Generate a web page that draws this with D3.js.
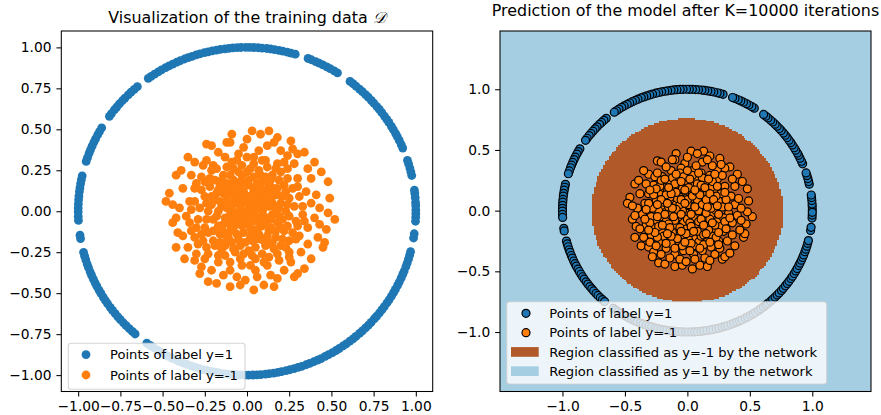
<!DOCTYPE html>
<html><head><meta charset="utf-8">
<script src="https://cdn.jsdelivr.net/npm/d3@7"></script>
<style>
body{margin:0;background:#fff}
svg text{font-family:"DejaVu Sans",sans-serif;fill:#000}
</style>
</head><body>
<svg id="fig" width="881" height="415"></svg>
<script>
// Training set: points with label y=1 lie on the unit circle (angles in degrees)
const ringAngles = [0.4,1.9,3.1,4.8,6.2,7.4,12.6,13.9,15.3,16.8,18.1,22.7,24.0,25.6,27.1,28.3,29.9,31.2,32.8,34.1,35.5,37.0,38.4,39.7,41.3,42.6,44.1,45.4,46.9,48.2,49.8,51.1,52.4,57.6,58.9,60.5,61.8,63.3,64.7,66.0,67.6,68.8,73.4,74.9,76.2,77.8,79.1,80.6,82.0,83.3,84.9,86.2,87.7,89.1,90.4,92.0,93.3,94.8,96.2,97.5,99.1,100.4,101.9,103.3,104.6,106.2,107.5,109.0,110.4,111.7,113.3,114.6,116.1,117.5,118.8,120.4,121.7,123.2,124.6,125.8,130.5,131.9,133.4,134.7,136.3,137.6,139.1,140.5,141.8,143.4,144.6,149.4,150.9,152.2,153.8,155.1,156.6,158.0,159.3,160.9,162.3,167.5,168.9,170.3,171.8,173.1,174.7,176.0,177.5,178.9,180.2,181.8,183.2,188.4,189.6,194.5,195.9,197.3,198.8,200.1,201.7,203.0,204.5,205.9,207.2,208.8,210.1,211.6,213.0,214.3,215.9,217.2,218.7,220.1,221.4,223.0,224.3,225.8,227.2,228.5,233.6,235.0,236.4,237.9,239.2,240.8,242.1,243.6,245.0,246.3,247.9,249.2,250.7,252.1,253.4,255.0,256.3,257.8,259.2,260.5,262.1,263.4,264.9,266.3,267.6,269.2,270.5,272.0,273.4,274.7,276.3,277.6,279.1,280.5,281.8,283.4,284.7,286.2,287.6,288.9,290.5,291.8,293.3,294.7,296.0,297.6,298.9,300.4,301.8,303.1,304.7,306.0,307.5,308.9,310.2,311.8,313.1,314.6,316.0,317.3,318.9,320.2,321.7,323.1,324.4,326.0,327.3,328.8,330.2,331.5,333.1,334.4,335.9,337.3,338.6,340.2,341.5,343.0,344.4,345.7,350.6,352.1,356.5,357.9,359.2];

// Points with label y=-1 fill the disc of radius 0.5
const innerPoints = [
[0.03,0.49],[0.13,0.49],[0.08,0.47],[-0.09,0.47],[-0.24,0.41],[-0.21,0.40],[-0.10,0.42],[-0.02,0.39],[0.12,0.40],[0.18,0.45],[0.26,0.43],[0.34,0.36],[0.30,0.35],[0.24,0.34],[-0.31,0.30],[-0.26,0.28],[-0.42,0.22],[0.44,0.24],[0.48,0.18],[0.49,0.08],[-0.46,0.11],[-0.48,0.06],[-0.44,-0.07],[-0.41,-0.13],[-0.42,-0.22],[-0.37,-0.29],[-0.31,-0.30],[-0.27,-0.34],[-0.23,-0.43],[-0.18,-0.44],[-0.10,-0.46],[-0.04,-0.45],[0.04,-0.48],[0.10,-0.45],[0.16,-0.46],[0.28,-0.40],[0.30,-0.38],[0.34,-0.35],[0.38,-0.29],[0.45,-0.22],[0.46,-0.19],[0.47,-0.11],[0.52,-0.05],[0.42,-0.16],[0.48,-0.01],
[0.30,0.20],[0.35,0.12],[0.38,0.05],[0.33,-0.02],[0.36,-0.10],[0.29,-0.17],[0.25,-0.25],[0.19,-0.30],[0.12,-0.33],[0.05,-0.36],[-0.03,-0.33],[-0.10,-0.36],[-0.17,-0.31],[-0.23,-0.26],[-0.29,-0.20],[-0.33,-0.12],[-0.36,-0.03],[-0.34,0.06],[-0.31,0.14],[-0.27,0.21],[-0.20,0.28],[-0.13,0.33],[-0.05,0.35],[0.04,0.33],[0.11,0.31],[0.18,0.29],[0.24,0.26],[0.38,0.20],[0.41,0.10],[0.40,-0.04],[0.32,-0.25],[0.22,-0.36],[0.06,-0.40],[-0.06,-0.40],[-0.14,-0.39],[-0.30,-0.26],[-0.38,-0.15],[-0.40,0.02],[-0.38,0.14],[-0.33,0.22],[-0.17,0.36],[-0.06,0.31],[0.07,0.37],[0.20,0.37],[0.28,0.29],[0.40,0.30],[0.43,0.02],[0.26,-0.31],[0.14,-0.39],[-0.21,-0.36],[-0.35,-0.22],[-0.44,0.04],[-0.39,0.25],[-0.12,0.42],[0.00,0.44],[0.16,0.42],[0.36,0.26],[0.43,-0.08],[0.36,-0.20],[0.18,-0.41],[-0.01,-0.42],[-0.28,-0.38],[-0.42,-0.04],[-0.35,0.33],[0.27,0.38],
[0.00,0.00],[0.05,0.02],[-0.04,0.03],[0.02,-0.05],[-0.03,-0.04],[0.08,0.06],[-0.07,0.08],[0.10,-0.03],[-0.10,-0.02],[0.03,0.10],[-0.02,0.12],[0.06,-0.11],[-0.08,-0.10],[0.13,0.03],[-0.13,0.05],[0.12,0.12],[-0.11,0.13],[0.14,-0.10],[-0.14,-0.08],[0.01,0.16],[0.02,-0.16],[0.17,0.00],[-0.17,0.00],[0.18,0.10],[-0.18,0.11],[0.17,-0.12],[-0.16,-0.14],[0.09,0.18],[-0.08,0.19],[0.10,-0.18],[-0.09,-0.19],[0.20,0.05],[-0.20,-0.05],[0.21,-0.05],[-0.21,0.04],[0.04,0.21],[-0.03,0.22],[0.05,-0.22],[-0.04,-0.21],[0.22,0.16],[-0.22,0.15],[0.21,-0.17],[-0.20,-0.18],[0.15,0.22],[-0.14,0.22],[0.16,-0.23],[-0.15,-0.23],[0.25,0.08],[-0.25,0.09],[0.24,-0.09],[-0.25,-0.10],[0.07,0.25],[-0.08,0.26],[0.09,-0.26],[-0.07,-0.25],[0.03,0.06],[-0.06,-0.01],[0.07,-0.04],[-0.01,0.08],[0.11,0.08],[-0.12,0.09],[0.09,-0.08],[-0.05,-0.07],[0.15,0.05],[-0.15,0.03],[0.04,0.14],[-0.05,0.15],[0.07,-0.14],[-0.02,-0.13],[0.19,-0.03],[-0.19,0.07],[0.13,0.16],[-0.12,0.17],[0.12,-0.15],[-0.11,-0.16],[0.23,0.00],[-0.23,0.00],[0.00,0.24],[0.01,-0.24],[0.19,0.19],[-0.19,0.19],[0.20,-0.21],[-0.19,-0.21],[0.27,0.14],[-0.27,0.13],[0.27,-0.13],[-0.27,-0.14],[0.12,0.27],[-0.12,0.27],[0.13,-0.28],[-0.13,-0.27],[0.01,0.03],[0.06,0.13],[-0.09,0.05],[0.10,0.02],[-0.03,-0.09],[0.14,-0.05],[-0.13,-0.04],[0.05,0.08],[-0.06,0.11],[0.03,-0.18],[-0.10,-0.12],[0.16,0.14],[-0.16,0.16],[0.18,-0.07],[-0.17,-0.09],[0.08,0.22],[-0.04,0.18],[0.11,-0.21],[-0.08,-0.23],[0.23,0.12],[-0.22,0.20],[0.22,-0.12],[-0.23,-0.13],[0.28,0.03],[-0.28,0.02],[0.29,-0.06],[-0.29,-0.05],[0.04,0.29],[-0.03,0.28],[0.05,-0.29],[-0.04,-0.29],[0.20,0.24],[-0.21,0.25],[0.23,-0.22],[-0.24,-0.22],[0.31,0.09],[-0.31,0.06],[0.30,-0.09],[-0.30,-0.10],
[0.02,0.02],[-0.01,-0.02],[0.04,-0.01],[-0.04,0.00],[0.01,0.05],[0.00,-0.07],[0.06,0.04],[-0.06,0.05],[0.05,-0.06],[-0.07,-0.05],[0.09,0.00],[-0.09,0.01],[0.00,0.09],[0.02,-0.10],[0.08,0.09],[-0.08,0.10],[0.09,-0.09],[-0.10,-0.08],[0.12,0.05],[-0.12,0.02],[0.11,-0.07],[-0.11,-0.05],[0.04,0.12],[-0.05,0.09],[0.03,-0.13],[-0.06,-0.14],[0.15,0.09],[-0.14,0.11],[0.15,-0.02],[-0.15,-0.11],[0.07,0.16],[-0.09,0.15],[0.08,-0.17],[-0.12,-0.18],[0.18,0.14],[-0.17,0.13],[0.17,-0.16],[-0.18,-0.03],[0.19,0.02],[0.01,0.19],[-0.01,-0.19],[0.21,0.09],[-0.21,0.09],[0.20,-0.10],[-0.20,-0.12],[0.11,0.21],[-0.10,0.22],[0.13,-0.20],[-0.13,-0.21],[0.24,0.04],[-0.24,0.05],[0.25,-0.03],[-0.24,-0.05],[0.02,0.26],[-0.05,0.24],[0.03,-0.27],[-0.02,-0.26],[0.24,0.20],[-0.25,0.18],[0.25,-0.18],[-0.26,-0.18],[0.17,0.26],[-0.18,0.26],[0.18,-0.26],[-0.17,-0.27],[0.30,0.15],[-0.30,0.17],[0.31,-0.15],[-0.31,-0.16],[0.09,0.31],[-0.09,0.30],[0.10,-0.31],[-0.10,-0.31],[0.33,0.03],[-0.33,0.01],[0.34,-0.06],[-0.34,-0.07],[0.00,0.33],[0.02,-0.33],[0.22,0.30],[-0.24,0.31],[0.25,-0.28],[-0.25,-0.29],[0.06,0.03],[-0.02,0.06],[0.03,-0.03],[-0.05,-0.03],[0.10,0.13],[-0.13,0.14],[0.13,-0.12],[-0.14,-0.14],[0.16,0.03],[-0.16,0.06],[0.06,0.17],[-0.02,0.17],[0.05,-0.17],[-0.05,-0.17],[0.14,0.19],[-0.15,0.19],[0.15,-0.19],[-0.16,-0.19]
];

// Network decision boundary: radius of the y=-1 region at given directions (degrees)
const boundaryAngles = [0,45,90,135,180,225,270,315,360];
const boundaryRadii  = [0.77,0.755,0.76,0.765,0.77,0.76,0.75,0.765,0.77];
const meshStep = 0.015;

const leftTicks  = [-1,-0.75,-0.5,-0.25,0,0.25,0.5,0.75,1];
const rightTicks = [-1,-0.5,0,0.5,1];
const leftLegendLabels  = ["Points of label y=1","Points of label y=-1"];
const rightLegendLabels = ["Points of label y=1","Points of label y=-1",
  "Region classified as y=-1 by the network","Region classified as y=1 by the network"];

const BLUE = "#1f77b4", ORANGE = "#ff7f0e", REG_POS = "#a6cee3", REG_NEG = "#b15928";
const TICK_FS = 13.8, TITLE_FS = 15.9, LEG_FS = 13.1;
const MARK_R = 4.0, EDGE_W = 1.2, TICK_LEN = 4.9;

const svg = d3.select("#fig");
const ringPts = ringAngles.map(a => [Math.cos(a*Math.PI/180), Math.sin(a*Math.PI/180)]);

function axes(g, x, y, ticks, fmt) {
  const ax = d3.axisBottom(x).tickValues(ticks).tickSize(TICK_LEN).tickPadding(4.9).tickFormat(fmt);
  const ay = d3.axisLeft(y).tickValues(ticks).tickSize(TICK_LEN).tickPadding(4.9).tickFormat(fmt);
  const gx = g.append("g").attr("transform", `translate(0,${y.range()[0]})`).call(ax);
  const gy = g.append("g").attr("transform", `translate(${x.range()[0]},0)`).call(ay);
  [gx, gy].forEach(a => {
    a.select(".domain").remove();
    a.selectAll("line").attr("stroke", "#000").attr("stroke-width", 1.05);
    a.selectAll("text").attr("font-size", TICK_FS).attr("font-family", "DejaVu Sans").attr("fill", "#000");
  });
  g.append("rect").attr("x", x.range()[0]).attr("y", y.range()[1])
    .attr("width", x.range()[1]-x.range()[0]).attr("height", y.range()[0]-y.range()[1])
    .attr("fill", "none").attr("stroke", "#000").attr("stroke-width", 1.05);
}

// ---------- left panel: training data ----------
{
  const x = d3.scaleLinear().domain([-1.1, 1.1]).range([61.3, 432.7]);
  const y = d3.scaleLinear().domain([-1.1, 1.1]).range([391.5, 31]);
  const g = svg.append("g");
  g.append("g").selectAll("circle").data(ringPts).join("circle")
    .attr("cx", d => x(d[0])).attr("cy", d => y(d[1])).attr("r", MARK_R + 0.4).attr("fill", BLUE);
  g.append("g").selectAll("circle").data(innerPoints).join("circle")
    .attr("cx", d => x(d[0])).attr("cy", d => y(d[1])).attr("r", MARK_R + 0.4).attr("fill", ORANGE);
  axes(g, x, y, leftTicks, d3.format(".2f"));
  const t = g.append("text").attr("x", (x.range()[0]+x.range()[1])/2).attr("y", 23.3)
    .attr("text-anchor", "middle").attr("font-size", TITLE_FS);
  t.append("tspan").text("Visualization of the training data ");
  t.append("tspan").attr("font-style", "italic").attr("font-family", "DejaVu Serif").text("\u{1D49F}");

  const lg = g.append("g");
  lg.append("rect").attr("x", 68.3).attr("y", 343.3).attr("width", 176.7).attr("height", 46)
    .attr("rx", 2.8).attr("fill", "#fff").attr("fill-opacity", 0.8)
    .attr("stroke", "#ccc").attr("stroke-opacity", 0.8).attr("stroke-width", 1.1);
  const rows = [354.6, 375];
  leftLegendLabels.forEach((lab, i) => {
    lg.append("circle").attr("cx", 86).attr("cy", rows[i]).attr("r", MARK_R + 0.4).attr("fill", i ? ORANGE : BLUE);
    lg.append("text").attr("x", 110).attr("y", rows[i]).attr("dy", "0.36em")
      .attr("font-size", LEG_FS).text(lab);
  });
}

// ---------- right panel: model prediction ----------
{
  const x = d3.scaleLinear().domain([-1.5, 1.47]).range([500, 871]);
  const y = d3.scaleLinear().domain([-1.49, 1.48]).range([391.5, 31]);
  const g = svg.append("g");
  g.append("rect").attr("x", 500).attr("y", 31).attr("width", 371).attr("height", 360.5).attr("fill", REG_POS);

  const radiusAt = d3.scaleLinear().domain(boundaryAngles).range(boundaryRadii);
  const cells = [];
  const nx = Math.round((1.5 + 1.5) / meshStep);
  for (let j = 0; j < nx; j++) {
    const yc = -1.5 + (j + 0.5) * meshStep;
    let start = null;
    for (let i = 0; i <= nx; i++) {
      const xc = -1.5 + (i + 0.5) * meshStep;
      let ang = Math.atan2(yc, xc) * 180 / Math.PI; if (ang < 0) ang += 360;
      const inside = i < nx && Math.hypot(xc, yc) < radiusAt(ang);
      if (inside && start === null) start = i;
      if (!inside && start !== null) {
        cells.push({x0: -1.5 + start*meshStep, x1: -1.5 + i*meshStep, y0: -1.5 + j*meshStep, y1: -1.5 + (j+1)*meshStep});
        start = null;
      }
    }
  }
  g.append("g").attr("shape-rendering", "crispEdges").selectAll("rect").data(cells).join("rect")
    .attr("x", d => x(d.x0)).attr("width", d => x(d.x1) - x(d.x0))
    .attr("y", d => y(d.y1)).attr("height", d => y(d.y0) - y(d.y1) + 0.5)
    .attr("fill", REG_NEG);

  g.append("g").selectAll("circle").data(ringPts).join("circle")
    .attr("cx", d => x(d[0])).attr("cy", d => y(d[1])).attr("r", MARK_R)
    .attr("fill", BLUE).attr("stroke", "#000").attr("stroke-width", EDGE_W);
  g.append("g").selectAll("circle").data(innerPoints).join("circle")
    .attr("cx", d => x(d[0])).attr("cy", d => y(d[1])).attr("r", MARK_R)
    .attr("fill", ORANGE).attr("stroke", "#000").attr("stroke-width", EDGE_W);
  axes(g, x, y, rightTicks, d3.format(".1f"));
  g.append("text").attr("x", 685.5).attr("y", 15.7).attr("text-anchor", "middle")
    .attr("font-size", TITLE_FS).text("Prediction of the model after K=10000 iterations");

  const lg = g.append("g");
  lg.append("rect").attr("x", 506.7).attr("y", 301.7).attr("width", 320).attr("height", 82.3)
    .attr("rx", 2.8).attr("fill", "#fff").attr("fill-opacity", 0.8)
    .attr("stroke", "#ccc").attr("stroke-opacity", 0.8).attr("stroke-width", 1.1);
  const rows = [313.3, 332.7, 351.9, 371.1];
  rightLegendLabels.forEach((lab, i) => {
    if (i < 2) {
      lg.append("circle").attr("cx", 526).attr("cy", rows[i]).attr("r", MARK_R)
        .attr("fill", i ? ORANGE : BLUE).attr("stroke", "#000").attr("stroke-width", EDGE_W);
    } else {
      lg.append("rect").attr("x", 511).attr("y", rows[i] - 4.8).attr("width", 27.7).attr("height", 9.7)
        .attr("fill", i === 2 ? REG_NEG : REG_POS);
    }
    lg.append("text").attr("x", 549.3).attr("y", rows[i]).attr("dy", "0.36em")
      .attr("font-size", LEG_FS).text(lab);
  });
}
</script>
</body></html>
